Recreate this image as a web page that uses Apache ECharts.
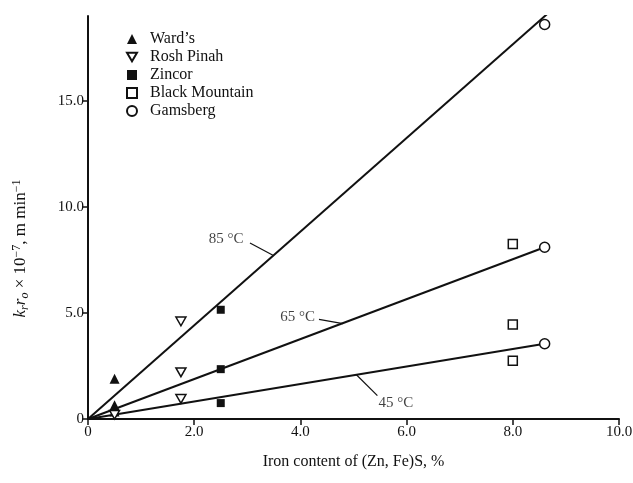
<!DOCTYPE html>
<html>
<head>
<meta charset="utf-8">
<script src="https://cdn.jsdelivr.net/npm/echarts@6/dist/echarts.min.js"></script>
<style>
  html, body { margin: 0; padding: 0; background: #fff; }
  #chart { width: 633px; height: 483px; }
</style>
</head>
<body>
<div id="chart"></div>
<script>
// data: [iron content %, k r0 x 1e-7]
const wards = [[0.5, 1.9], [0.5, 0.65], [0.5, 0.35]]
const roshPinah = [[1.75, 4.6], [1.75, 2.2], [1.75, 0.95], [0.5, 0.2]]
const zincor = [[2.5, 5.15], [2.5, 2.35], [2.5, 0.75]]
const blackMountain = [[8.0, 8.25], [8.0, 4.45], [8.0, 2.75]]
const gamsberg = [[8.6, 18.6], [8.6, 8.1], [8.6, 3.55]]

// fitted lines
const fit85 = [[0, 0], [8.65, 19.1]]
const fit65 = [[0, 0], [8.6, 8.1]]
const fit45 = [[0, 0], [8.6, 3.55]]

// temperature labels and their leader lines
const tempLabels = [[2.6, 8.5, '85 °C'], [3.95, 4.8, '65 °C'], [5.8, 0.75, '45 °C']]
const leader85 = [[3.05, 8.3], [3.5, 7.7]]
const leader65 = [[4.35, 4.7], [4.8, 4.5]]
const leader45 = [[5.45, 1.1], [5.05, 2.1]]

const xTicks = [0, 2, 4, 6, 8, 10]
const yTicks = [0, 5, 10, 15]

const font = 'Liberation Serif'
const black = '#111'

function fitLine(data, width) {
    return {
        type: 'line',
        data: data,
        symbol: 'none',
        silent: true,
        z: 1,
        lineStyle: { color: black, width: width },
        animation: false
    }
}

function points(name, data, symbol, size, open) {
    return {
        name: name,
        type: 'scatter',
        data: data,
        symbol: symbol,
        symbolSize: size,
        symbolKeepAspect: true,
        z: 5,
        itemStyle: open
            ? { color: '#fff', borderColor: black, borderWidth: 1.5, opacity: 1 }
            : { color: black, borderColor: black, borderWidth: 0, opacity: 1 },
        animation: false
    }
}

const tickFmt = v => v === 0 ? '0' : v.toFixed(1)

const chart = echarts.init(document.getElementById('chart'))
chart.setOption({
    backgroundColor: '#fff',
    animation: false,
    textStyle: { fontFamily: font, color: black },
    grid: { left: 88, right: 14, top: 16, bottom: 64, containLabel: false, outerBoundsMode: 'none' },
    legend: {
        data: ['Ward’s', 'Rosh Pinah', 'Zincor', 'Black Mountain', 'Gamsberg'],
        orient: 'vertical',
        left: 121,
        top: 26,
        itemWidth: 10,
        itemHeight: 10,
        itemGap: 2,
        selectedMode: false,
        textStyle: { fontFamily: font, fontSize: 16, color: black, lineHeight: 16, padding: [0, 0, 0, 8] }
    },
    xAxis: {
        type: 'value',
        min: 0,
        max: 10,
        interval: 2,
        name: 'Iron content of (Zn, Fe)S, %',
        nameLocation: 'middle',
        nameGap: 35,
        nameTextStyle: { fontFamily: font, fontSize: 16, color: black },
        splitLine: { show: false },
        axisLine: { lineStyle: { color: black, width: 2 } },
        axisTick: { length: 6, lineStyle: { color: black, width: 1.5 }, customValues: xTicks },
        axisLabel: { fontFamily: font, fontSize: 15, color: black, margin: 6, formatter: tickFmt, customValues: xTicks }
    },
    yAxis: {
        type: 'value',
        min: 0,
        max: 19,
        interval: 5,
        name: '{i|k}{s|r}{i|r}{s|o} × 10{p|−7}, m min{p|−1}',
        nameLocation: 'middle',
        nameGap: 57,
        nameTextStyle: {
            fontFamily: font, fontSize: 17, color: black, lineHeight: 20,
            padding: [0, 62, 0, 0],
            rich: {
                i: { fontFamily: font, fontSize: 17, fontStyle: 'italic', lineHeight: 20 },
                s: { fontFamily: font, fontSize: 12, fontStyle: 'italic', verticalAlign: 'bottom', lineHeight: 20 },
                p: { fontFamily: font, fontSize: 12, verticalAlign: 'top', lineHeight: 20 }
            }
        },
        splitLine: { show: false },
        axisLine: { lineStyle: { color: black, width: 2 } },
        axisTick: { length: 6, lineStyle: { color: black, width: 1.5 }, customValues: yTicks },
        axisLabel: { fontFamily: font, fontSize: 15, color: black, margin: 4, formatter: tickFmt, customValues: yTicks }
    },
    series: [
        fitLine(fit85, 2),
        fitLine(fit65, 2),
        fitLine(fit45, 2),
        fitLine(leader85, 1.2),
        fitLine(leader65, 1.2),
        fitLine(leader45, 1.2),
        {
            type: 'scatter',
            data: tempLabels,
            symbolSize: 0,
            silent: true,
            z: 6,
            label: {
                show: true,
                position: 'inside',
                formatter: p => p.data[2],
                fontFamily: font,
                fontSize: 15,
                color: black
            }
        },
        points('Ward’s', wards, 'triangle', 10, false),
        points('Rosh Pinah', roshPinah, 'path://M0,0 L10,0 L5,8.7 Z', 10, true),
        points('Zincor', zincor, 'rect', 8, false),
        points('Black Mountain', blackMountain, 'rect', 9, true),
        points('Gamsberg', gamsberg, 'circle', 10, true)
    ]
})
</script>
</body>
</html>
